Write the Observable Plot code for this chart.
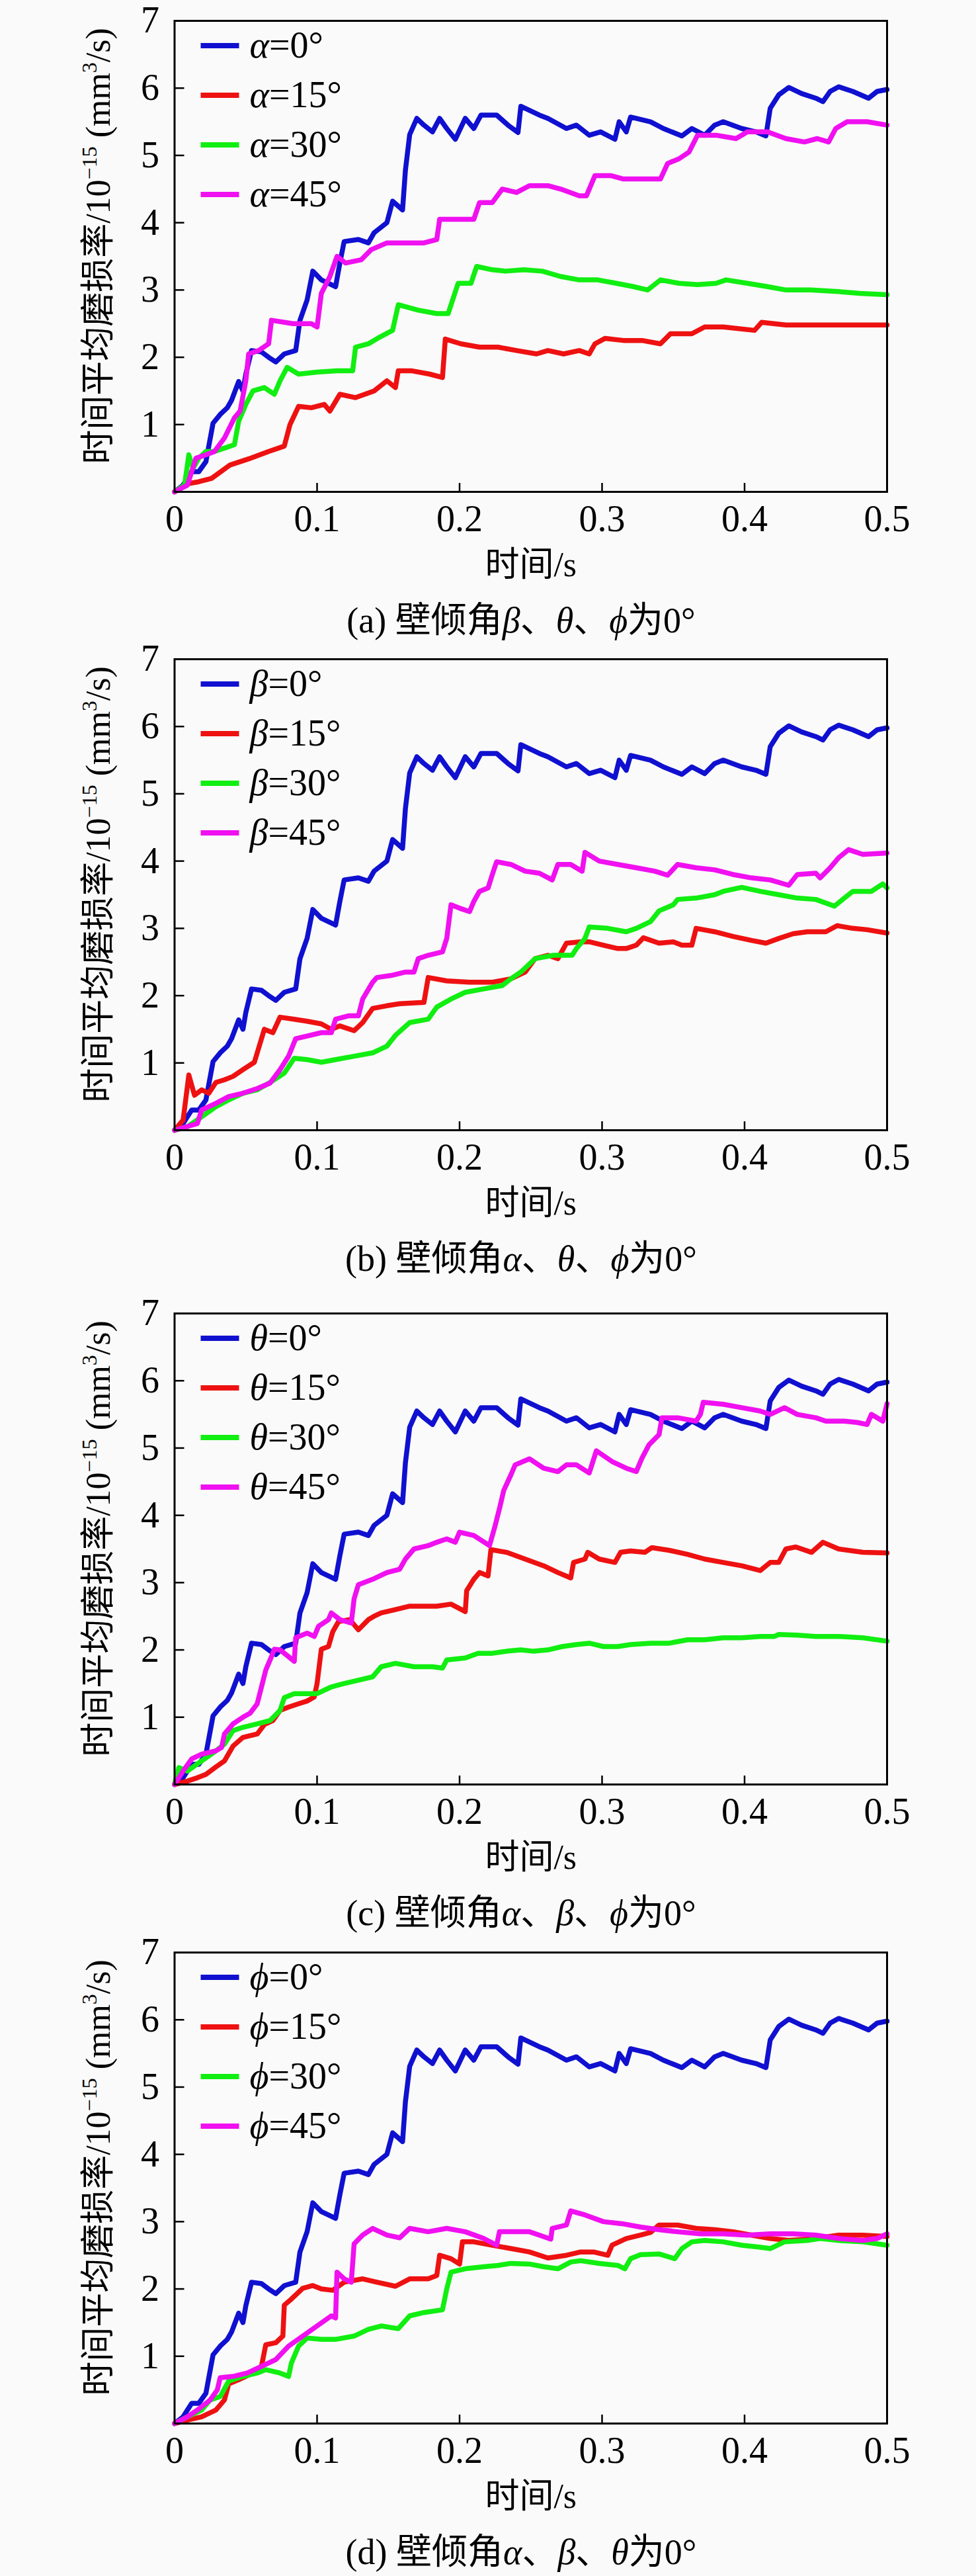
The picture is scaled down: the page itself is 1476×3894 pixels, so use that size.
<!DOCTYPE html>
<html><head><meta charset="utf-8">
<script src="https://cdn.jsdelivr.net/npm/d3@7"></script>
<script src="https://cdn.jsdelivr.net/npm/@observablehq/plot@0.6"></script>
<style>
html,body{margin:0;padding:0;background:#fafafa;}
#root{position:relative;width:1476px;height:3894px;overflow:hidden;background:#fafafa;}
.panel{position:absolute;left:0;}
</style></head><body><div id="root"></div>
<script>
// ---------- tick labels & categories ----------
const xTicks = [0, 0.1, 0.2, 0.3, 0.4, 0.5];
const xTickLabels = ["0", "0.1", "0.2", "0.3", "0.4", "0.5"];
const yTicks = [1, 2, 3, 4, 5, 6, 7];
const yTickLabels = ["1", "2", "3", "4", "5", "6", "7"];
const angleLabels = ["0°", "15°", "30°", "45°"];
const seriesColors = ["#1010d0", "#ee1111", "#11ee11", "#f010f0"];
const xTitle = "时间/s";

// ---------- series values [time s, rate] ----------
const base0 = [[0,0],[0.006,0.1],[0.012,0.3],[0.017,0.3],[0.022,0.45],[0.027,1.02],[0.032,1.15],[0.037,1.25],[0.04,1.36],[0.045,1.64],[0.048,1.5],[0.05,1.75],[0.054,2.1],[0.061,2.08],[0.066,2.0],[0.071,1.93],[0.077,2.05],[0.085,2.1],[0.088,2.55],[0.093,2.85],[0.097,3.28],[0.103,3.15],[0.113,3.05],[0.116,3.4],[0.119,3.72],[0.129,3.75],[0.136,3.7],[0.14,3.85],[0.149,4.0],[0.153,4.32],[0.16,4.19],[0.162,4.78],[0.165,5.31],[0.17,5.55],[0.175,5.45],[0.181,5.35],[0.186,5.55],[0.191,5.4],[0.197,5.24],[0.204,5.55],[0.21,5.4],[0.215,5.6],[0.226,5.6],[0.234,5.45],[0.241,5.34],[0.243,5.73],[0.256,5.6],[0.262,5.55],[0.275,5.4],[0.282,5.45],[0.291,5.3],[0.299,5.35],[0.309,5.24],[0.312,5.5],[0.317,5.35],[0.32,5.57],[0.334,5.5],[0.343,5.4],[0.356,5.29],[0.363,5.4],[0.372,5.3],[0.379,5.45],[0.385,5.5],[0.398,5.4],[0.408,5.35],[0.415,5.29],[0.418,5.7],[0.424,5.9],[0.431,6.01],[0.44,5.92],[0.45,5.85],[0.455,5.8],[0.46,5.95],[0.466,6.02],[0.476,5.95],[0.487,5.85],[0.493,5.95],[0.5,5.98]];

const a15 = [[0,0],[0.009,0.12],[0.017,0.15],[0.026,0.2],[0.039,0.4],[0.052,0.49],[0.066,0.6],[0.077,0.68],[0.081,1.0],[0.087,1.27],[0.096,1.25],[0.105,1.3],[0.109,1.2],[0.116,1.45],[0.127,1.4],[0.14,1.5],[0.149,1.65],[0.155,1.55],[0.157,1.8],[0.166,1.8],[0.179,1.75],[0.188,1.7],[0.19,2.27],[0.201,2.2],[0.214,2.15],[0.227,2.15],[0.24,2.1],[0.254,2.05],[0.262,2.1],[0.273,2.05],[0.284,2.1],[0.291,2.05],[0.295,2.2],[0.302,2.28],[0.315,2.25],[0.328,2.25],[0.341,2.2],[0.348,2.35],[0.363,2.35],[0.372,2.45],[0.385,2.45],[0.407,2.4],[0.412,2.52],[0.429,2.48],[0.446,2.48],[0.464,2.48],[0.481,2.48],[0.5,2.48]];
const a30 = [[0,0],[0.007,0.1],[0.01,0.55],[0.013,0.35],[0.017,0.5],[0.022,0.6],[0.028,0.6],[0.035,0.65],[0.042,0.7],[0.045,1.05],[0.05,1.3],[0.055,1.5],[0.063,1.55],[0.07,1.45],[0.074,1.65],[0.079,1.85],[0.087,1.75],[0.1,1.78],[0.114,1.8],[0.125,1.8],[0.127,2.15],[0.136,2.2],[0.144,2.3],[0.153,2.4],[0.157,2.78],[0.171,2.7],[0.184,2.65],[0.192,2.65],[0.199,3.1],[0.208,3.1],[0.212,3.35],[0.223,3.3],[0.232,3.28],[0.245,3.3],[0.258,3.28],[0.271,3.2],[0.284,3.15],[0.297,3.15],[0.31,3.1],[0.322,3.05],[0.332,3.0],[0.341,3.15],[0.354,3.1],[0.367,3.08],[0.38,3.1],[0.387,3.15],[0.402,3.1],[0.416,3.05],[0.429,3.0],[0.446,3.0],[0.464,2.98],[0.481,2.95],[0.5,2.93]];
const a45 = [[0,0],[0.009,0.1],[0.015,0.5],[0.022,0.55],[0.028,0.6],[0.035,0.8],[0.042,1.1],[0.046,1.2],[0.05,1.65],[0.052,2.05],[0.059,2.1],[0.066,2.2],[0.068,2.55],[0.083,2.5],[0.096,2.5],[0.1,2.45],[0.103,2.95],[0.109,3.2],[0.114,3.5],[0.12,3.4],[0.131,3.45],[0.138,3.6],[0.149,3.7],[0.162,3.7],[0.175,3.7],[0.184,3.75],[0.186,4.05],[0.197,4.05],[0.21,4.05],[0.214,4.3],[0.223,4.3],[0.23,4.5],[0.24,4.45],[0.249,4.55],[0.262,4.55],[0.271,4.5],[0.284,4.4],[0.289,4.4],[0.295,4.7],[0.306,4.7],[0.315,4.65],[0.328,4.65],[0.341,4.65],[0.346,4.88],[0.354,4.95],[0.361,5.05],[0.367,5.3],[0.38,5.3],[0.394,5.25],[0.402,5.35],[0.416,5.35],[0.429,5.25],[0.442,5.2],[0.451,5.25],[0.459,5.2],[0.464,5.4],[0.472,5.5],[0.486,5.5],[0.5,5.45]];

const b15 = [[0,0],[0.006,0.15],[0.01,0.82],[0.014,0.52],[0.019,0.6],[0.024,0.55],[0.029,0.71],[0.035,0.75],[0.041,0.8],[0.048,0.9],[0.056,1.01],[0.063,1.5],[0.069,1.45],[0.074,1.68],[0.084,1.65],[0.093,1.62],[0.103,1.58],[0.11,1.5],[0.116,1.55],[0.126,1.48],[0.132,1.6],[0.139,1.81],[0.149,1.85],[0.158,1.88],[0.175,1.9],[0.178,2.27],[0.191,2.22],[0.207,2.2],[0.223,2.2],[0.236,2.25],[0.246,2.35],[0.253,2.55],[0.262,2.6],[0.269,2.55],[0.275,2.78],[0.285,2.8],[0.291,2.8],[0.301,2.75],[0.311,2.7],[0.317,2.7],[0.324,2.75],[0.329,2.86],[0.34,2.78],[0.35,2.8],[0.356,2.75],[0.363,2.75],[0.366,3.0],[0.379,2.95],[0.392,2.88],[0.405,2.82],[0.415,2.78],[0.424,2.85],[0.434,2.92],[0.444,2.95],[0.457,2.95],[0.465,3.04],[0.476,3.0],[0.486,2.98],[0.5,2.93]];
const b30 = [[0,0],[0.009,0.05],[0.019,0.2],[0.029,0.35],[0.038,0.45],[0.048,0.55],[0.058,0.6],[0.067,0.71],[0.077,0.85],[0.084,1.07],[0.093,1.05],[0.103,1.01],[0.113,1.05],[0.126,1.1],[0.139,1.15],[0.149,1.25],[0.155,1.41],[0.165,1.6],[0.178,1.65],[0.184,1.83],[0.194,1.95],[0.204,2.05],[0.217,2.1],[0.23,2.15],[0.236,2.25],[0.243,2.35],[0.253,2.55],[0.266,2.6],[0.279,2.6],[0.282,2.7],[0.288,2.85],[0.291,3.02],[0.304,3.0],[0.317,2.95],[0.324,3.0],[0.334,3.1],[0.34,3.26],[0.35,3.35],[0.353,3.43],[0.366,3.45],[0.379,3.5],[0.385,3.55],[0.398,3.61],[0.411,3.55],[0.424,3.5],[0.437,3.45],[0.45,3.43],[0.463,3.33],[0.47,3.45],[0.476,3.55],[0.489,3.55],[0.497,3.66],[0.5,3.6]];
const b45 = [[0,0],[0.016,0.1],[0.019,0.3],[0.029,0.4],[0.038,0.5],[0.048,0.55],[0.058,0.62],[0.067,0.7],[0.074,0.9],[0.08,1.1],[0.085,1.36],[0.093,1.4],[0.103,1.45],[0.11,1.45],[0.113,1.65],[0.122,1.7],[0.129,1.7],[0.132,1.95],[0.139,2.2],[0.142,2.27],[0.152,2.3],[0.162,2.35],[0.168,2.35],[0.171,2.55],[0.178,2.6],[0.188,2.65],[0.191,2.85],[0.194,3.35],[0.2,3.3],[0.207,3.25],[0.21,3.4],[0.214,3.55],[0.22,3.6],[0.223,3.8],[0.226,3.99],[0.236,3.95],[0.246,3.85],[0.256,3.82],[0.265,3.72],[0.269,3.95],[0.278,3.95],[0.286,3.85],[0.288,4.13],[0.298,4.0],[0.311,3.95],[0.324,3.9],[0.337,3.85],[0.346,3.79],[0.353,3.95],[0.366,3.9],[0.379,3.87],[0.392,3.8],[0.405,3.75],[0.418,3.72],[0.431,3.64],[0.437,3.8],[0.45,3.82],[0.453,3.75],[0.46,3.9],[0.466,4.05],[0.473,4.17],[0.483,4.1],[0.5,4.12]];

const c15 = [[0,0],[0.009,0.05],[0.016,0.1],[0.022,0.15],[0.029,0.26],[0.035,0.35],[0.041,0.57],[0.048,0.7],[0.058,0.75],[0.063,0.89],[0.069,0.95],[0.074,1.1],[0.08,1.15],[0.087,1.2],[0.093,1.24],[0.098,1.3],[0.1,1.5],[0.103,2.01],[0.108,2.05],[0.111,2.27],[0.115,2.42],[0.123,2.45],[0.129,2.3],[0.136,2.45],[0.14,2.5],[0.145,2.55],[0.155,2.6],[0.165,2.65],[0.175,2.65],[0.184,2.65],[0.194,2.68],[0.204,2.57],[0.205,2.88],[0.21,3.05],[0.214,3.15],[0.22,3.1],[0.222,3.49],[0.233,3.45],[0.246,3.35],[0.259,3.25],[0.269,3.15],[0.278,3.07],[0.28,3.3],[0.288,3.35],[0.29,3.45],[0.298,3.35],[0.309,3.3],[0.313,3.45],[0.32,3.47],[0.33,3.45],[0.335,3.52],[0.347,3.48],[0.36,3.42],[0.372,3.35],[0.385,3.3],[0.398,3.25],[0.411,3.18],[0.418,3.3],[0.424,3.3],[0.429,3.5],[0.436,3.53],[0.447,3.45],[0.455,3.6],[0.466,3.5],[0.483,3.45],[0.5,3.44]];
const c30 = [[0,0],[0.003,0.25],[0.009,0.2],[0.019,0.35],[0.029,0.5],[0.035,0.6],[0.041,0.8],[0.048,0.85],[0.058,0.9],[0.067,0.95],[0.074,1.1],[0.077,1.29],[0.084,1.35],[0.09,1.35],[0.1,1.35],[0.11,1.45],[0.119,1.5],[0.129,1.55],[0.139,1.6],[0.145,1.75],[0.155,1.8],[0.168,1.75],[0.181,1.75],[0.188,1.73],[0.191,1.85],[0.204,1.88],[0.213,1.95],[0.223,1.95],[0.233,1.98],[0.243,2.0],[0.252,1.98],[0.262,2.0],[0.272,2.05],[0.282,2.08],[0.291,2.1],[0.301,2.05],[0.311,2.05],[0.32,2.08],[0.334,2.1],[0.347,2.1],[0.36,2.15],[0.372,2.15],[0.385,2.18],[0.398,2.18],[0.411,2.2],[0.421,2.2],[0.424,2.23],[0.437,2.22],[0.45,2.2],[0.466,2.2],[0.483,2.18],[0.5,2.13]];
const c45 = [[0,0],[0.006,0.2],[0.012,0.38],[0.019,0.45],[0.029,0.5],[0.033,0.55],[0.035,0.75],[0.041,0.9],[0.048,1.0],[0.053,1.06],[0.058,1.2],[0.061,1.45],[0.064,1.7],[0.068,1.9],[0.07,2.01],[0.074,2.0],[0.08,1.9],[0.084,1.83],[0.085,2.18],[0.093,2.25],[0.098,2.2],[0.101,2.35],[0.108,2.45],[0.11,2.55],[0.116,2.45],[0.124,2.4],[0.126,2.76],[0.129,2.97],[0.139,3.05],[0.149,3.15],[0.158,3.2],[0.162,3.35],[0.168,3.5],[0.178,3.55],[0.184,3.6],[0.191,3.65],[0.197,3.6],[0.2,3.75],[0.21,3.7],[0.221,3.55],[0.225,3.85],[0.228,4.1],[0.231,4.37],[0.236,4.6],[0.239,4.75],[0.249,4.84],[0.259,4.7],[0.269,4.65],[0.275,4.75],[0.282,4.75],[0.291,4.63],[0.296,4.96],[0.307,4.8],[0.317,4.7],[0.324,4.65],[0.328,4.85],[0.333,5.05],[0.34,5.2],[0.342,5.45],[0.353,5.45],[0.366,5.4],[0.369,5.5],[0.371,5.68],[0.385,5.65],[0.398,5.6],[0.411,5.55],[0.418,5.5],[0.428,5.6],[0.437,5.5],[0.45,5.45],[0.457,5.4],[0.47,5.4],[0.479,5.38],[0.486,5.35],[0.489,5.5],[0.497,5.4],[0.5,5.66]];

const d15 = [[0,0],[0.009,0.05],[0.019,0.1],[0.029,0.2],[0.035,0.35],[0.038,0.59],[0.045,0.65],[0.055,0.75],[0.061,0.85],[0.064,1.17],[0.071,1.2],[0.076,1.3],[0.077,1.76],[0.082,1.85],[0.09,2.01],[0.097,2.05],[0.103,2.0],[0.111,1.98],[0.119,2.1],[0.132,2.15],[0.142,2.1],[0.155,2.04],[0.165,2.15],[0.178,2.15],[0.184,2.2],[0.186,2.5],[0.194,2.45],[0.2,2.37],[0.202,2.7],[0.21,2.7],[0.223,2.65],[0.236,2.6],[0.249,2.55],[0.262,2.46],[0.275,2.5],[0.285,2.55],[0.294,2.55],[0.304,2.5],[0.307,2.65],[0.317,2.75],[0.327,2.8],[0.334,2.84],[0.34,2.95],[0.353,2.95],[0.366,2.9],[0.379,2.88],[0.392,2.85],[0.405,2.8],[0.418,2.75],[0.431,2.72],[0.45,2.75],[0.466,2.8],[0.483,2.8],[0.5,2.78]];
const d30 = [[0,0],[0.009,0.1],[0.019,0.2],[0.025,0.35],[0.032,0.4],[0.038,0.63],[0.048,0.7],[0.058,0.75],[0.064,0.8],[0.074,0.75],[0.08,0.7],[0.082,0.9],[0.087,1.15],[0.093,1.27],[0.103,1.25],[0.113,1.25],[0.126,1.3],[0.136,1.4],[0.145,1.45],[0.157,1.41],[0.165,1.6],[0.175,1.65],[0.188,1.69],[0.191,2.0],[0.194,2.25],[0.204,2.3],[0.217,2.33],[0.227,2.35],[0.236,2.38],[0.249,2.37],[0.259,2.33],[0.269,2.3],[0.278,2.4],[0.285,2.42],[0.298,2.38],[0.311,2.35],[0.316,2.3],[0.32,2.45],[0.327,2.51],[0.34,2.52],[0.351,2.45],[0.356,2.6],[0.363,2.7],[0.372,2.72],[0.385,2.7],[0.398,2.65],[0.411,2.62],[0.418,2.6],[0.428,2.7],[0.444,2.72],[0.453,2.75],[0.466,2.72],[0.483,2.7],[0.5,2.65]];
const d45 = [[0,0],[0.009,0.1],[0.016,0.2],[0.025,0.35],[0.03,0.5],[0.032,0.68],[0.041,0.7],[0.051,0.75],[0.061,0.85],[0.071,0.95],[0.08,1.15],[0.09,1.3],[0.1,1.45],[0.11,1.6],[0.113,1.57],[0.114,2.25],[0.119,2.15],[0.124,2.1],[0.126,2.67],[0.132,2.8],[0.139,2.9],[0.149,2.8],[0.158,2.76],[0.165,2.9],[0.178,2.85],[0.191,2.9],[0.204,2.85],[0.217,2.75],[0.226,2.65],[0.228,2.85],[0.236,2.85],[0.249,2.85],[0.256,2.8],[0.264,2.74],[0.265,2.9],[0.275,2.95],[0.278,3.16],[0.288,3.1],[0.301,3.0],[0.314,2.97],[0.327,2.92],[0.34,2.88],[0.353,2.85],[0.369,2.82],[0.385,2.82],[0.402,2.8],[0.418,2.82],[0.434,2.82],[0.45,2.8],[0.466,2.75],[0.483,2.72],[0.493,2.75],[0.5,2.82]];

// ---------- panel texts ----------
const panelSymbols = ["α", "β", "θ", "ϕ"];
const panelLetters = ["(a)", "(b)", "(c)", "(d)"];
const captionSymbols = [["β","θ","ϕ"], ["α","θ","ϕ"], ["α","β","ϕ"], ["α","β","θ"]];
const panelSeries = [[base0,a15,a30,a45],[base0,b15,b30,b45],[base0,c15,c30,c45],[base0,d15,d30,d45]];

// ---------- layout ----------
const FONT = "'Liberation Serif','Noto Sans CJK SC',serif";
const panelTops = [0, 965, 1954, 2920];
const W = 1476, H = 973, ML = 263.5, MR = 135, MT = 31, MB = 230;

function decor(pi) {
  return (index, scales, values, dim) => {
    const g = d3.create("svg:g").attr("font-family", FONT).attr("fill", "black");
    const x0 = dim.marginLeft, y0 = dim.marginTop;
    const yb = dim.height - dim.marginBottom;
    // legend
    angleLabels.forEach((lab, i) => {
      const y = y0 + 38 + 75 * i;
      g.append("line").attr("x1", x0 + 40).attr("x2", x0 + 98).attr("y1", y).attr("y2", y)
        .attr("stroke", seriesColors[i]).attr("stroke-width", 8);
      const t = g.append("text").attr("x", x0 + 114).attr("y", y).attr("dy", "0.33em")
        .attr("text-anchor", "start").attr("font-size", 56);
      t.append("tspan").attr("font-style", "italic").text(panelSymbols[pi]);
      t.append("tspan").text("=" + lab);
    });
    // y label
    const yl = g.append("text")
      .attr("transform", `translate(${x0 - 116},${y0 + 341}) rotate(-90)`)
      .attr("text-anchor", "middle").attr("dy", "0.35em").attr("font-size", 52);
    yl.append("tspan").text("时间平均磨损率/10");
    yl.append("tspan").attr("dy", -20).attr("font-size", 32).text("−15");
    yl.append("tspan").attr("dy", 20).text(" (mm");
    yl.append("tspan").attr("dy", -20).attr("font-size", 32).text("3");
    yl.append("tspan").attr("dy", 20).text("/s)");
    // caption
    const cs = captionSymbols[pi];
    const ct = g.append("text").attr("x", 788).attr("y", yb + 194).attr("dy", "0.35em")
      .attr("text-anchor", "middle").attr("font-size", 54);
    ct.append("tspan").text(panelLetters[pi] + " 壁倾角");
    ct.append("tspan").attr("font-style", "italic").text(cs[0]);
    ct.append("tspan").text("、");
    ct.append("tspan").attr("font-style", "italic").text(cs[1]);
    ct.append("tspan").text("、");
    ct.append("tspan").attr("font-style", "italic").text(cs[2]);
    ct.append("tspan").text("为0°");
    return g.node();
  };
}

const root = document.getElementById("root");
panelSeries.forEach((series, pi) => {
  const rows = [];
  series.forEach((s, si) => s.forEach(([t, v]) => rows.push({t, v, k: angleLabels[si]})));
  const chart = Plot.plot({
    width: W, height: H,
    marginLeft: ML, marginRight: MR, marginTop: MT, marginBottom: MB,
    style: {background: "transparent", fontFamily: FONT, color: "black", overflow: "visible"},
    x: {domain: [0, 0.5]},
    y: {domain: [0, 7]},
    color: {domain: angleLabels, range: seriesColors},
    marks: [
      Plot.line(rows, {x: "t", y: "v", z: "k", stroke: "k", strokeWidth: 7.5, strokeLinejoin: "round"}),
      Plot.frame({stroke: "black", strokeWidth: 3}),
      Plot.axisY(yTicks, {tickSize: 0, tickPadding: 23, fontSize: 56, fontFamily: FONT, label: null,
        tickFormat: d => yTickLabels[yTicks.indexOf(d)]}),
      Plot.axisY(yTicks.slice(0, 6), {anchor: "right", frameAnchor: "left", tickSize: 14, strokeWidth: 2.5, tickFormat: () => "", label: null}),
      Plot.axisX(xTicks, {tickSize: 0, tickPadding: 20, fontSize: 56, fontFamily: FONT, label: null,
        tickFormat: d => xTickLabels[xTicks.indexOf(d)]}),
      Plot.axisX(xTicks.slice(1, 5), {anchor: "top", frameAnchor: "bottom", tickSize: 14, strokeWidth: 2.5, tickFormat: () => "", label: null}),
      Plot.text([xTitle], {frameAnchor: "bottom", dy: 111, lineAnchor: "middle", fontSize: 52, fontFamily: FONT}),
      decor(pi)
    ]
  });
  chart.setAttribute("font-family", FONT);
  const div = document.createElement("div");
  div.className = "panel";
  div.style.top = panelTops[pi] + "px";
  div.appendChild(chart);
  root.appendChild(div);
});
</script></body></html>
